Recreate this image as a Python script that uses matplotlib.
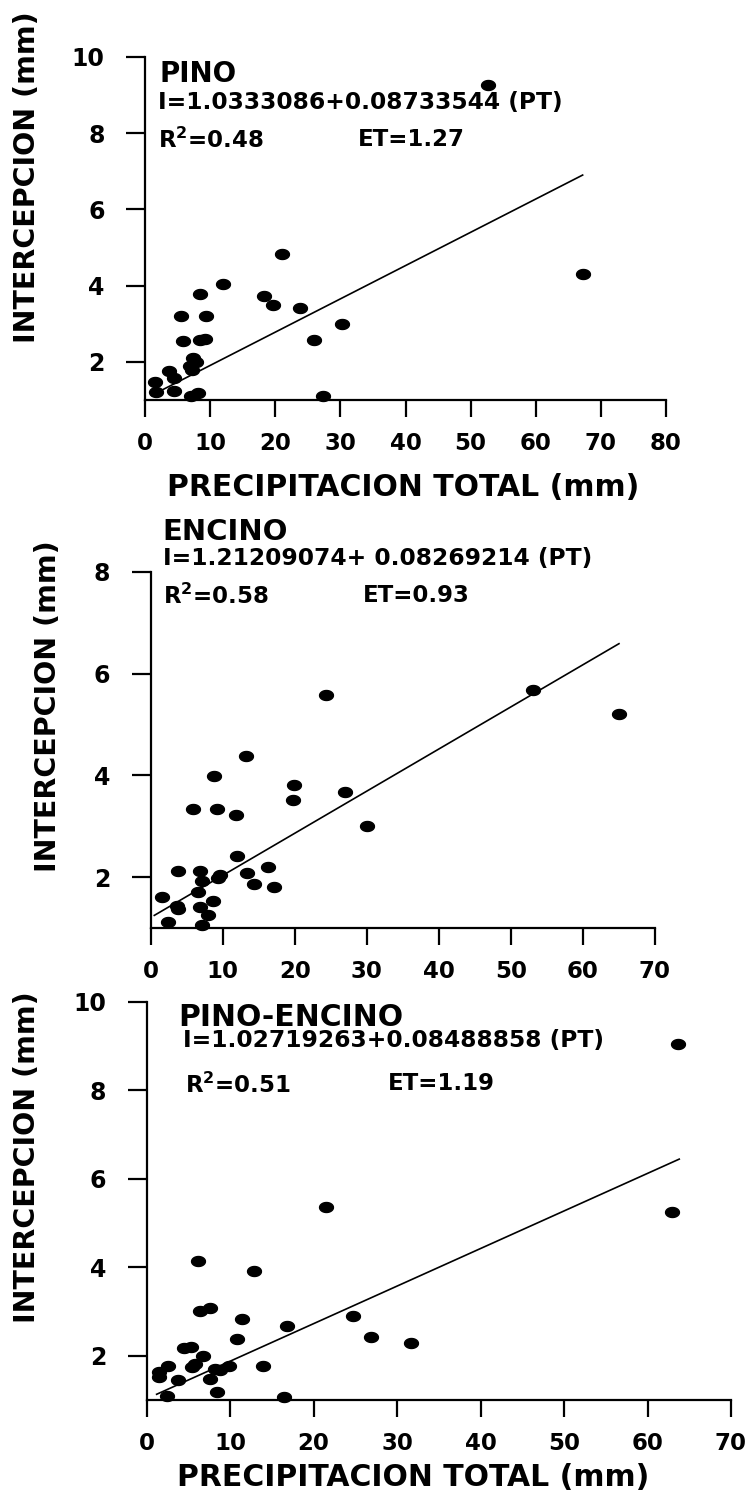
import matplotlib
matplotlib.use('Agg')
import matplotlib.pyplot as plt
from matplotlib.path import Path
import numpy as np

plt.rcParams['font.family'] = ['DejaVu Sans']
plt.rcParams['font.weight'] = 'bold'
plt.rcParams['mathtext.fontset'] = 'dejavusans'
plt.rcParams['mathtext.default'] = 'bf'

# ---------------- data ----------------
pino_pt = [21.0, 12.0, 8.4, 18.2, 19.6, 23.8, 5.5, 9.4, 30.2, 5.9, 8.4, 9.2, 26.0,
           7.4, 7.8, 6.9, 7.2, 3.7, 4.5, 1.5, 4.5, 1.7, 8.2, 7.0, 27.4, 52.7, 67.2]
pino_i = [4.83, 4.04, 3.77, 3.73, 3.50, 3.41, 3.21, 3.21, 2.99, 2.56, 2.58, 2.60, 2.58,
          2.10, 2.00, 1.88, 1.79, 1.77, 1.57, 1.46, 1.24, 1.22, 1.19, 1.10, 1.10, 9.27, 4.30]
pino_fit = (1.0333086, 0.08733544)
pino_fit_range = (1.0, 67.2)

encino_pt = [24.4, 13.2, 8.8, 19.9, 27.0, 19.7, 5.9, 9.2, 11.8, 30.0, 12.0, 3.8, 6.8,
             16.3, 9.6, 9.4, 13.3, 7.1, 14.3, 17.1, 6.6, 1.6, 8.6, 3.6, 3.8, 6.9, 7.9,
             2.4, 7.1, 53.0, 65.0]
encino_i = [5.57, 4.38, 3.99, 3.81, 3.68, 3.52, 3.35, 3.35, 3.22, 3.01, 2.42, 2.12, 2.12,
            2.20, 2.05, 1.98, 2.08, 1.92, 1.86, 1.82, 1.71, 1.62, 1.54, 1.43, 1.37, 1.41, 1.26,
            1.13, 1.07, 5.67, 5.20]
encino_fit = (1.21209074, 0.08269214)
encino_fit_range = (0.5, 65.0)

pe_pt = [21.5, 6.1, 12.9, 7.6, 6.4, 11.4, 24.7, 16.8, 10.8, 26.9, 31.7, 4.5, 5.3, 6.8,
         2.6, 5.8, 5.4, 8.2, 8.8, 9.9, 13.9, 1.5, 1.5, 3.8, 7.6, 8.4, 2.4, 16.5, 63.6, 62.9]
pe_i = [5.36, 4.14, 3.91, 3.09, 3.00, 2.83, 2.90, 2.68, 2.38, 2.43, 2.28, 2.17, 2.20, 2.00,
        1.77, 1.81, 1.74, 1.70, 1.68, 1.76, 1.76, 1.64, 1.51, 1.45, 1.47, 1.19, 1.08, 1.06, 9.05, 5.24]
pe_fit = (1.02719263, 0.08488858)
pe_fit_range = (1.2, 63.8)

titles = ["PINO", "ENCINO", "PINO-ENCINO"]
equations = ["I=1.0333086+0.08733544 (PT)",
             "I=1.21209074+ 0.08269214 (PT)",
             "I=1.02719263+0.08488858 (PT)"]
r2_texts = ["R$^{2}$=0.48", "R$^{2}$=0.58", "R$^{2}$=0.51"]
et_texts = ["ET=1.27", "ET=0.93", "ET=1.19"]
xticks_list = [[0, 10, 20, 30, 40, 50, 60, 70, 80], [0, 10, 20, 30, 40, 50, 60, 70],
               [0, 10, 20, 30, 40, 50, 60, 70]]
yticks_list = [[2, 4, 6, 8, 10], [2, 4, 6, 8], [2, 4, 6, 8, 10]]
xlims = [(0, 80), (0, 70), (0, 70)]
ylims = [(1, 10), (1, 8), (1, 10)]
ylabel = "INTERCEPCION (mm)"
xlabel = "PRECIPITACION TOTAL (mm)"

# ---------------- layout (pixels) ----------------
W, H = 748, 1500
fig = plt.figure(figsize=(W / 100, H / 100), dpi=100)


def fx(X):
    return X / W


def fy(Y):
    return 1 - Y / H


# left, top, right, bottom in pixels
boxes = [(145, 57, 666, 400), (150.7, 571.7, 655, 928.3), (146.6, 1001.7, 731, 1400)]
# text anchors (pixels): title, equation, r2, et
title_pos = [(160, 74), (162, 532), (178, 1018)]
eq_pos = [(158, 103), (163, 558), (183, 1041)]
r2_pos = [(158, 140), (163, 596), (185, 1085)]
et_pos = [(358, 140), (363, 596), (388, 1083)]
title_sizes = [20, 21, 21.5]
ylabel_pos = [(27, 177), (48, 706), (27, 1157)]
xlabel_pos = [(403, 487), None, (413, 1477)]

theta = np.linspace(0, 2 * np.pi, 41)
ell = Path(np.column_stack([np.cos(theta), 0.72 * np.sin(theta)]))

datasets = [(pino_pt, pino_i, pino_fit, pino_fit_range),
            (encino_pt, encino_i, encino_fit, encino_fit_range),
            (pe_pt, pe_i, pe_fit, pe_fit_range)]

for k, (xs, ys, fit, frange) in enumerate(datasets):
    l, t, r, b = boxes[k]
    ax = fig.add_axes([fx(l), fy(b), (r - l) / W, (b - t) / H])
    ax.plot(xs, ys, linestyle='none', marker=ell, ms=10, color='black', clip_on=False)
    xf = np.array(frange)
    ax.plot(xf, fit[0] + fit[1] * xf, color='black', lw=1.2)
    ax.set_xlim(*xlims[k])
    ax.set_ylim(*ylims[k])
    ax.set_xticks(xticks_list[k])
    ax.set_yticks(yticks_list[k])
    for s in ['top', 'right']:
        ax.spines[s].set_visible(False)
    for s in ['left', 'bottom']:
        ax.spines[s].set_linewidth(1.6)
    ax.tick_params(axis='y', direction='out', length=14, width=1.6, pad=15, labelsize=17)
    ax.tick_params(axis='x', direction='out', length=12, width=1.6, pad=11, labelsize=16.5)
    for lab in ax.get_xticklabels() + ax.get_yticklabels():
        lab.set_fontweight('bold')

    fig.text(fx(title_pos[k][0]), fy(title_pos[k][1]), titles[k], fontsize=title_sizes[k],
             fontweight='bold', ha='left', va='center')
    fig.text(fx(eq_pos[k][0]), fy(eq_pos[k][1]), equations[k], fontsize=16.8,
             fontweight='bold', ha='left', va='center')
    fig.text(fx(r2_pos[k][0]), fy(r2_pos[k][1]), r2_texts[k], fontsize=16.5,
             fontweight='bold', ha='left', va='center')
    fig.text(fx(et_pos[k][0]), fy(et_pos[k][1]), et_texts[k], fontsize=16.5,
             fontweight='bold', ha='left', va='center')
    fig.text(fx(ylabel_pos[k][0]), fy(ylabel_pos[k][1]), ylabel, fontsize=20.5,
             fontweight='bold', rotation=90, ha='center', va='center')
    if xlabel_pos[k] is not None:
        fig.text(fx(xlabel_pos[k][0]), fy(xlabel_pos[k][1]), xlabel, fontsize=21.5,
                 fontweight='bold', ha='center', va='center')

fig.savefig('out.png', dpi=100, facecolor='white')
